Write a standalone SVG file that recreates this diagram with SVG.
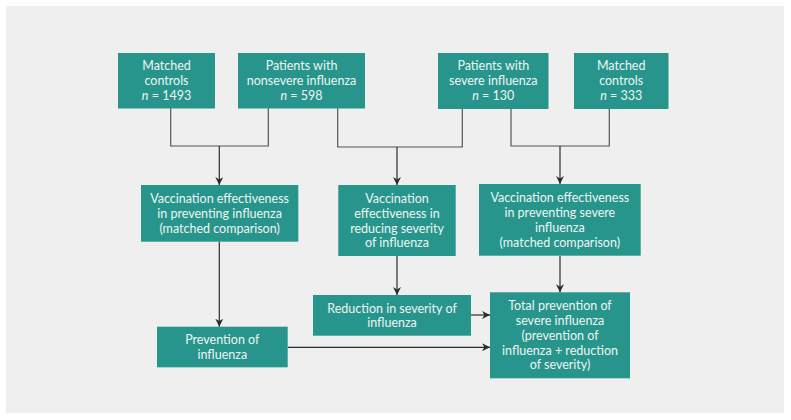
<svg xmlns="http://www.w3.org/2000/svg" width="791" height="420" viewBox="0 0 791 420">
<defs>
<style>
.bg{fill:#eeefee}
.box{fill:#27958b}
.t{font-family:"Lato","Open Sans",sans-serif;font-size:12.5px;fill:#eef6f4;text-anchor:middle}
.c{fill:none;stroke:#555;stroke-width:1.2}
.a{fill:none;stroke:#2b2b2b;stroke-width:1.2;marker-end:url(#ah)}
</style>
<marker id="ah" viewBox="0 0 10 10" refX="10" refY="5" markerWidth="8" markerHeight="8" markerUnits="userSpaceOnUse" orient="auto">
<path d="M0,0 L10,5 L0,10 L3,5 Z" fill="#2b2b2b"/>
</marker>
</defs>
<rect x="0" y="0" width="791" height="420" fill="#ffffff"/>
<rect class="bg" x="6" y="6" width="778" height="407"/>

<g id="connectors">
<path class="c" d="M170.7,108 V146 H268.3 V108"/>
<path class="a" d="M219.3,146 V185"/>
<path class="c" d="M337.7,108 V147 H462.3 V108"/>
<path class="a" d="M397,147 V185"/>
<path class="c" d="M511,108 V146 H609.3 V108"/>
<path class="a" d="M560,146 V184"/>
<path class="a" d="M219.3,241.7 V326.7"/>
<path class="a" d="M397,256 V295"/>
<path class="a" d="M560,255.7 V292.3"/>
<path class="a" d="M471,315 H490"/>
<path class="a" d="M287.7,347.3 H490"/>
</g>

<g id="n1">
<rect class="box" x="118" y="53" width="97" height="55.5"/>
<text class="t" x="166.5" y="70">Matched</text>
<text class="t" x="166.5" y="85">controls</text>
<text class="t" x="166.5" y="100"><tspan font-style="italic">n</tspan> = 1493</text>
</g>
<g id="n2">
<rect class="box" x="238" y="53" width="127" height="55.5"/>
<text class="t" x="301.5" y="70">Patients with</text>
<text class="t" x="301.5" y="85">nonsevere influenza</text>
<text class="t" x="301.5" y="100"><tspan font-style="italic">n</tspan> = 598</text>
</g>
<g id="n3">
<rect class="box" x="438" y="53" width="110.5" height="56"/>
<text class="t" x="493.3" y="70">Patients with</text>
<text class="t" x="493.3" y="85">severe influenza</text>
<text class="t" x="493.3" y="100"><tspan font-style="italic">n</tspan> = 130</text>
</g>
<g id="n4">
<rect class="box" x="574" y="53" width="94.5" height="56"/>
<text class="t" x="621.2" y="70">Matched</text>
<text class="t" x="621.2" y="85">controls</text>
<text class="t" x="621.2" y="100"><tspan font-style="italic">n</tspan> = 333</text>
</g>
<g id="n5">
<rect class="box" x="141" y="185" width="157.3" height="56.7"/>
<text class="t" x="219.6" y="203">Vaccination effectiveness</text>
<text class="t" x="219.6" y="218">in preventing influenza</text>
<text class="t" x="219.6" y="233">(matched comparison)</text>
</g>
<g id="n6">
<rect class="box" x="338.3" y="185" width="117.4" height="71"/>
<text class="t" x="397" y="202.5">Vaccination</text>
<text class="t" x="397" y="217.5">effectiveness in</text>
<text class="t" x="397" y="232.5">reducing severity</text>
<text class="t" x="397" y="247">of influenza</text>
</g>
<g id="n7">
<rect class="box" x="479" y="184" width="161.7" height="71.7"/>
<text class="t" x="559.8" y="202">Vaccination effectiveness</text>
<text class="t" x="559.8" y="217">in preventing severe</text>
<text class="t" x="559.8" y="231.5">influenza</text>
<text class="t" x="559.8" y="246.5">(matched comparison)</text>
</g>
<g id="n8">
<rect class="box" x="313" y="295" width="158" height="40.7"/>
<text class="t" x="392" y="312.5">Reduction in severity of</text>
<text class="t" x="392" y="327">influenza</text>
</g>
<g id="n9">
<rect class="box" x="157" y="326.7" width="130.7" height="40.6"/>
<text class="t" x="222.3" y="344">Prevention of</text>
<text class="t" x="222.3" y="358.5">influenza</text>
</g>
<g id="n10">
<rect class="box" x="490" y="292.3" width="140" height="86"/>
<text class="t" x="560" y="310">Total prevention of</text>
<text class="t" x="560" y="325">severe influenza</text>
<text class="t" x="560" y="339.5">(prevention of</text>
<text class="t" x="560" y="354.5">influenza + reduction</text>
<text class="t" x="560" y="368.5">of severity)</text>
</g>
</svg>
